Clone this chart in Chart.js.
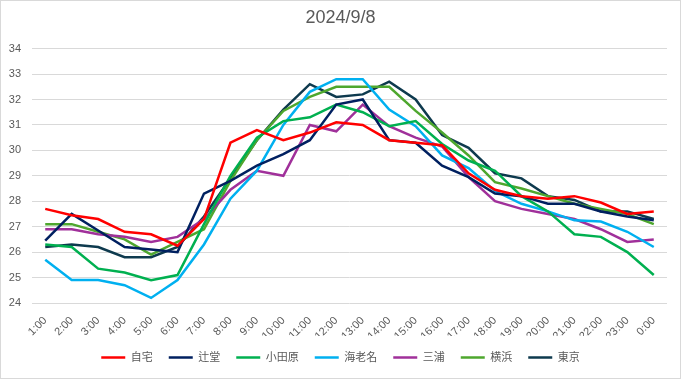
<!DOCTYPE html>
<html>
<head>
<meta charset="utf-8">
<script src="https://cdn.jsdelivr.net/npm/chart.js@4/dist/chart.umd.min.js"></script>
<style>
    html, body { margin: 0; padding: 0; background: #fff; }
    #wrap { width: 681px; height: 379px; position: relative; }
</style>
</head>
<body>
<div id="wrap"><canvas id="tempChart"></canvas></div>
<script>
// Hourly temperatures, 2024/9/8
const hours = ['1:00', '2:00', '3:00', '4:00', '5:00', '6:00', '7:00', '8:00', '9:00', '10:00', '11:00', '12:00',
    '13:00', '14:00', '15:00', '16:00', '17:00', '18:00', '19:00', '20:00', '21:00', '22:00', '23:00', '0:00'];

const jitaku = [27.7, 27.45, 27.3, 26.8, 26.7, 26.25, 27.3, 30.3, 30.8, 30.4, 30.7, 31.1,
    31.0, 30.4, 30.3, 30.2, 29.1, 28.45, 28.2, 28.1, 28.2, 27.95, 27.5, 27.6];
const tsujido = [26.45, 27.5, 26.85, 26.2, 26.1, 26.0, 28.3, 28.8, 29.4, 29.85, 30.4, 31.8,
    32.0, 30.4, 30.3, 29.4, 28.95, 28.3, 28.2, 27.9, 27.9, 27.6, 27.4, 27.25];
const odawara = [26.3, 26.2, 25.35, 25.2, 24.9, 25.1, 27.1, 29.0, 30.5, 31.15, 31.3, 31.8,
    31.5, 30.95, 31.15, 30.25, 29.6, 29.2, 28.2, 27.6, 26.7, 26.6, 26.0, 25.1];
const ebina = [25.7, 24.9, 24.9, 24.7, 24.2, 24.9, 26.3, 28.1, 29.2, 31.0, 32.3, 32.8,
    32.8, 31.6, 30.95, 29.8, 29.3, 28.4, 27.9, 27.6, 27.25, 27.2, 26.8, 26.2];
const miura = [26.9, 26.9, 26.7, 26.6, 26.4, 26.6, 27.3, 28.45, 29.2, 29.0, 31.0, 30.75,
    31.8, 30.95, 30.5, 30.15, 28.95, 28.0, 27.7, 27.5, 27.3, 26.9, 26.4, 26.5];
const yokohama = [27.1, 27.1, 26.8, 26.5, 25.9, 26.4, 26.9, 28.8, 30.4, 31.55, 32.1, 32.5,
    32.5, 32.5, 31.55, 30.7, 29.8, 28.75, 28.5, 28.2, 27.9, 27.7, 27.5, 27.1];
const tokyo = [26.2, 26.3, 26.2, 25.8, 25.8, 26.2, 27.4, 28.9, 30.4, 31.6, 32.6, 32.1,
    32.2, 32.7, 32.0, 30.6, 30.1, 29.1, 28.9, 28.2, 28.05, 27.6, 27.6, 27.3];

const seriesNames = ['自宅', '辻堂', '小田原', '海老名', '三浦', '横浜', '東京'];
const seriesData = [jitaku, tsujido, odawara, ebina, miura, yokohama, tokyo];
const yTicks = [24, 25, 26, 27, 28, 29, 30, 31, 32, 33, 34];

const colors = ['#ff0000', '#002060', '#00b050', '#00b0f0', '#a0309a', '#4ea72e', '#0e3a4e'];
const textColor = '#595959';
const fontFamily = "'Liberation Sans', 'Noto Sans CJK JP', sans-serif";

// light grey frame round the whole chart
const framePlugin = {
    id: 'frame',
    afterDraw(chart) {
        const c = chart.ctx;
        c.save();
        c.strokeStyle = '#d9d9d9';
        c.lineWidth = 1;
        c.strokeRect(0.5, 0.5, chart.width - 1, chart.height - 1);
        c.restore();
    }
};

new Chart(document.getElementById('tempChart'), {
    type: 'line',
    data: {
        labels: hours,
        datasets: seriesNames.map((name, i) => ({
            label: name,
            data: seriesData[i],
            borderColor: colors[i],
            backgroundColor: colors[i],
            borderWidth: 2.5,
            pointRadius: 0,
            tension: 0,
            fill: false
        }))
    },
    options: {
        responsive: true,
        maintainAspectRatio: false,
        animation: false,
        layout: { padding: { left: 0, right: 0, top: 0, bottom: 6 } },
        plugins: {
            title: {
                display: true,
                text: '2024/9/8',
                color: textColor,
                font: { family: fontFamily, size: 18, weight: 'normal' },
                padding: { top: 7, bottom: 20 }
            },
            legend: {
                position: 'bottom',
                labels: {
                    color: textColor,
                    font: { family: fontFamily, size: 11 },
                    usePointStyle: true,
                    pointStyle: 'line',
                    pointStyleWidth: 24,
                    padding: 16
                }
            },
            tooltip: { enabled: false }
        },
        scales: {
            x: {
                offset: true,
                grid: { display: false },
                border: { display: false },
                ticks: {
                    color: textColor,
                    font: { family: fontFamily, size: 11 },
                    minRotation: 45,
                    maxRotation: 45,
                    autoSkip: false,
                    padding: 3
                },
                afterFit: (scale) => { scale.height = 33; }
            },
            y: {
                min: 24,
                max: 34,
                afterBuildTicks: (scale) => { scale.ticks = yTicks.map(v => ({ value: v })); },
                grid: { color: '#d9d9d9', drawTicks: false },
                border: { display: false },
                ticks: {
                    color: textColor,
                    font: { family: fontFamily, size: 11 },
                    padding: 11
                },
                afterFit: (scale) => { scale.width = 32; }
            },
            // empty right-hand axis, only keeps the right margin
            yRight: {
                position: 'right',
                display: true,
                grid: { display: false },
                border: { display: false },
                ticks: { display: false },
                afterFit: (scale) => { scale.width = 14; }
            }
        }
    },
    plugins: [framePlugin]
});
</script>
</body>
</html>
